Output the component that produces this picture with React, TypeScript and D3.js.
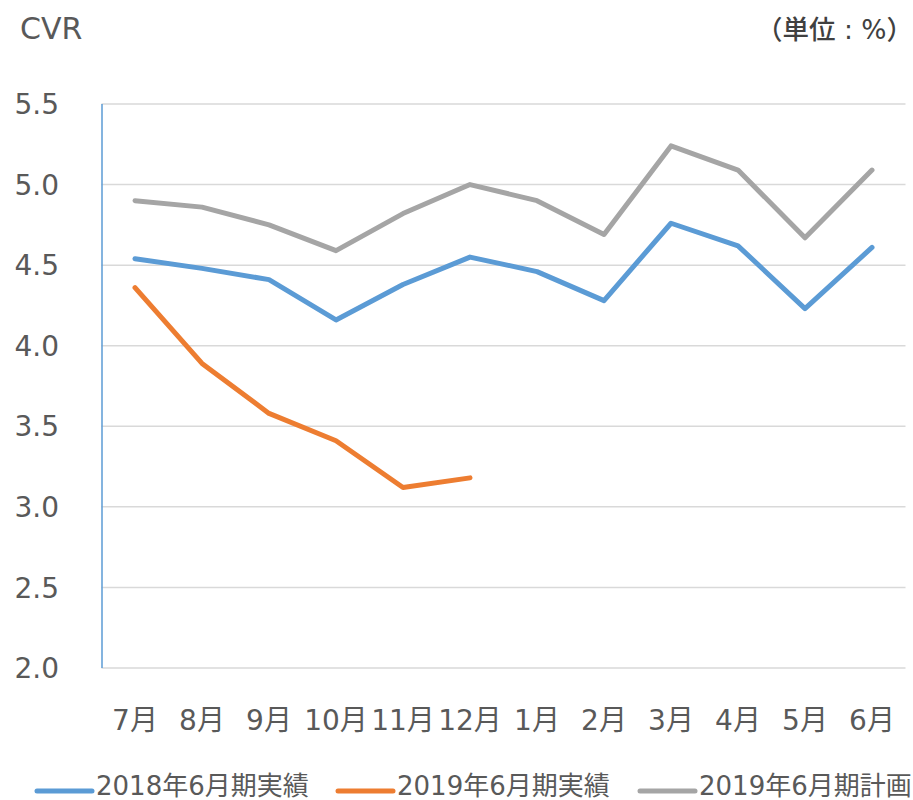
import React from "react";
import * as d3 from "d3";

const months = ["7月", "8月", "9月", "10月", "11月", "12月", "1月", "2月", "3月", "4月", "5月", "6月"];
const actual2018 = [4.54, 4.48, 4.41, 4.16, 4.38, 4.55, 4.46, 4.28, 4.76, 4.62, 4.23, 4.61];
const actual2019 = [4.36, 3.89, 3.58, 3.41, 3.12, 3.18];
const plan2019 = [4.9, 4.86, 4.75, 4.59, 4.82, 5.0, 4.9, 4.69, 5.24, 5.09, 4.67, 5.09];
const yTicks = [2.0, 2.5, 3.0, 3.5, 4.0, 4.5, 5.0, 5.5];
const seriesNames = ["2018年6月期実績", "2019年6月期実績", "2019年6月期計画"];
const seriesColors = ["#5B9BD5", "#ED7D31", "#A5A5A5"];

const W = 913;
const H = 800;
const FONT = "'DejaVu Sans', 'Noto Sans CJK JP', sans-serif";

export default function App() {
  const x = d3.scaleBand<string>().domain(months).range([101.5, 905.5]);
  const y = d3.scaleLinear().domain([2, 5.5]).range([668, 104]);
  const line = d3
    .line<number>()
    .x((_, i) => (x(months[i]) as number) + x.bandwidth() / 2)
    .y((d) => y(d));
  const series = [actual2018, actual2019, plan2019];
  const legendX = [37, 338, 640];

  return (
    <svg
      width={W}
      height={H}
      style={{ position: "absolute", left: 0, top: 0, background: "#fff" }}
      fontFamily={FONT}
    >
      <rect x={0} y={0} width={W} height={H} fill="#fff" />
      <text x={20} y={39} fontSize={30} fill="#595959">CVR</text>
      <text x={913} y={39} fontSize={26.5} fill="#404040" textAnchor="end" fontWeight={500}>
        （単位 : %）
      </text>
      {yTicks.map((t) => (
        <g key={t}>
          <line x1={101.5} x2={905.5} y1={y(t)} y2={y(t)} stroke="#D9D9D9" strokeWidth={1.5} />
          <text x={59} y={y(t)} dy="0.36em" fontSize={28} fill="#595959" textAnchor="end">
            {t.toFixed(1)}
          </text>
        </g>
      ))}
      <line x1={102} x2={102} y1={104} y2={668} stroke="#5B9BD5" strokeWidth={1.5} />
      {months.map((m) => (
        <text
          key={m}
          x={(x(m) as number) + x.bandwidth() / 2}
          y={730}
          fontSize={28}
          fill="#595959"
          textAnchor="middle"
        >
          {m}
        </text>
      ))}
      {series.map((s, i) => (
        <path
          key={i}
          d={line(s) || ""}
          fill="none"
          stroke={seriesColors[i]}
          strokeWidth={5}
          strokeLinecap="round"
          strokeLinejoin="round"
        />
      ))}
      {seriesNames.map((n, i) => (
        <g key={n}>
          <line
            x1={legendX[i]}
            x2={legendX[i] + 55}
            y1={791}
            y2={791}
            stroke={seriesColors[i]}
            strokeWidth={5}
            strokeLinecap="round"
          />
          <text x={legendX[i] + 59} y={795} fontSize={26} fill="#595959">
            {n}
          </text>
        </g>
      ))}
    </svg>
  );
}
